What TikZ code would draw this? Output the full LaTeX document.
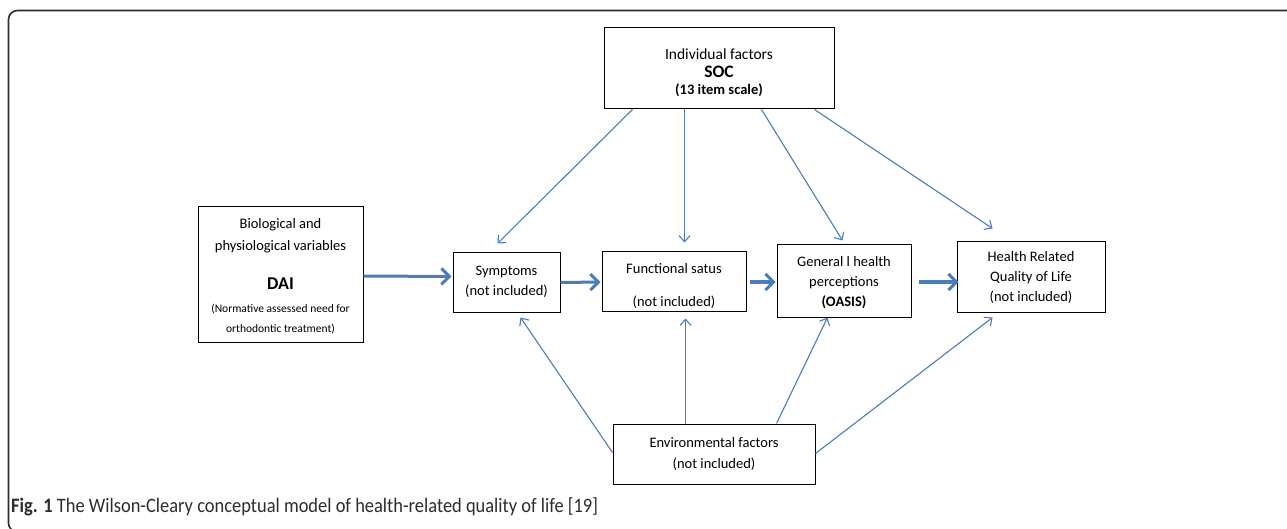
\documentclass[tikz,border=0pt]{standalone}
\usepackage{fontspec}
\setmainfont{Carlito}
\newfontfamily\capfont[FakeStretch=0.9]{Carlito}
\usetikzlibrary{arrows.meta,calc}
\definecolor{arrowblue}{RGB}{74,126,187}
\definecolor{framegray}{RGB}{45,45,45}
\begin{document}
\begin{tikzpicture}[x=1pt,y=-1pt,
  box/.style={draw=black, line width=1pt, inner sep=0pt, align=center,
    font=\fontsize{14.5}{20}\selectfont},
  thinarrow/.style={draw=arrowblue, line width=1.1pt,
    -{Straight Barb[length=6pt,width=11pt]}},
  thickarrow/.style={draw=arrowblue, line width=3pt,
    -{Straight Barb[length=8pt,width=16pt]}},
]
\useasboundingbox (0,0) rectangle (1287,529);
\clip (0,0) rectangle (1287,529);
\fill[white] (0,0) rectangle (1287,529);
% outer frame
\draw[line width=1.6pt, draw=framegray, rounded corners=9pt]
  (40,532) -- (8.5,532) -- (8.5,10.5) -- (1300,10.5);

% boxes
\node[box, minimum width=230pt, minimum height=81pt] (soc) at (719,68.5)
  {\rule{0pt}{19pt}{\fontsize{15.5}{20}\selectfont Individual factors}\\[-2pt]{\fontsize{17.5}{20}\selectfont\bfseries SOC}\\[-3pt]{\bfseries (13 item scale)}};
\node[box, minimum width=165pt, minimum height=135pt, font=\fontsize{14.5}{21.7}\selectfont] (dai) at (280.5,274.5)
  {\rule{0pt}{14pt}Biological and\\physiological variables\\[17pt]{\fontsize{18}{20}\selectfont\bfseries DAI}\\[2pt]{\fontsize{11.5}{14}\selectfont (Normative assessed need for}\\[-2pt]{\fontsize{11.5}{14}\selectfont orthodontic treatment)}};
\node[box, minimum width=107pt, minimum height=59pt] (sym) at (506.5,282.5)
  {Symptoms\\(not included)\rule[-4pt]{0pt}{4pt}};
\node[box, minimum width=144pt, minimum height=59pt] (fun) at (674,281.5)
  {\rule{0pt}{19pt}Functional satus\\[13pt](not included)};
\node[box, minimum width=134pt, minimum height=72pt] (gen) at (844,281)
  {\rule{0pt}{14pt}General l health\\perceptions\\{\bfseries (OASIS)}};
\node[box, minimum width=148pt, minimum height=70pt] (hrq) at (1031,277)
  {Health Related\\Quality of Life\\(not included)};
\node[box, minimum width=202pt, minimum height=60pt] (env) at (714,454)
  {Environmental factors\\[1pt](not included)};

% thick arrows
\draw[thickarrow] ($(dai.east)+(0,1.5)$) -- ($(sym.west)+(-1,-6)$);
\draw[thickarrow] (sym.east) -- ($(fun.west)+(-1,0.5)$);
\draw[thickarrow] ($(fun.east)+(3,0.5)$) -- ($(gen.west)+(-1,1)$);
\draw[thickarrow] ($(gen.east)+(7,1)$) -- ($(hrq.west)+(2,5)$);

% from individual factors
\draw[thinarrow] ($(soc.south west)+(29,0)$) -- ($(sym.north west)+(45,-9)$);
\draw[thinarrow] ($(soc.south west)+(81,0)$) -- ($(fun.north west)+(83,-9)$);
\draw[thinarrow] ($(soc.south west)+(158,0)$) -- ($(gen.north west)+(66,-4)$);
\draw[thinarrow] ($(soc.south west)+(211,0)$) -- ($(hrq.north west)+(36,-13)$);

% from environmental factors
\draw[thinarrow] ($(env.north west)+(0,29)$) -- ($(sym.south west)+(68,5)$);
\draw[thinarrow] ($(env.north west)+(73,0)$) -- ($(fun.south west)+(84,7)$);
\draw[thinarrow] ($(env.north west)+(164,0)$) -- ($(gen.south west)+(51,0)$);
\draw[thinarrow] ($(env.north east)+(0,30)$) -- ($(hrq.south west)+(36,5)$);

% caption
\node[anchor=base west, inner sep=0pt, text=framegray,
  font=\capfont\fontsize{20.5}{24}\selectfont] (cap) at (11,512)
  {\textbf{Fig. 1} The Wilson-Cleary conceptual model of health-related quality of life [19]};
\end{tikzpicture}
\end{document}
